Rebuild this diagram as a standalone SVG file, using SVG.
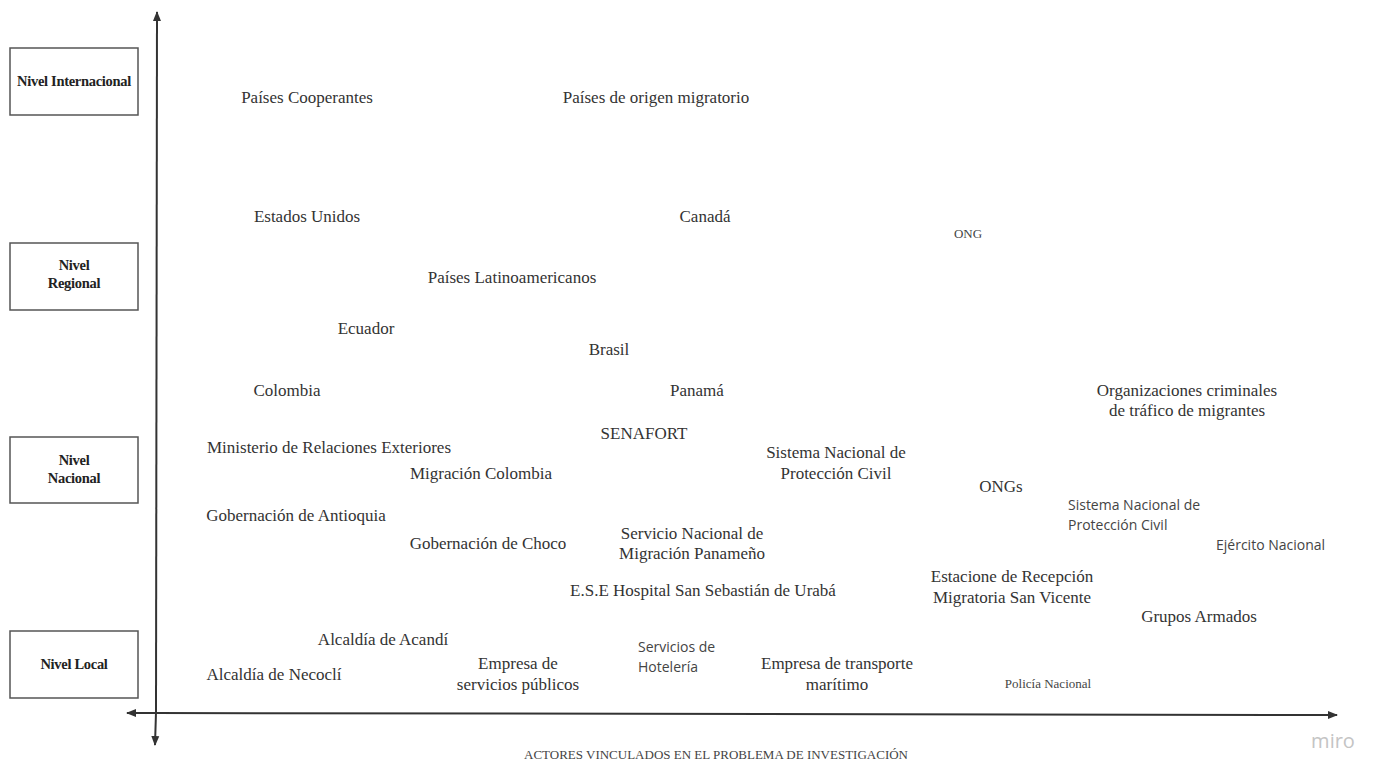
<svg xmlns="http://www.w3.org/2000/svg" width="1373" height="764" viewBox="0 0 1373 764">
<defs>
<marker id="ah" viewBox="0 0 10 10" refX="9" refY="5" markerWidth="5" markerHeight="5" orient="auto-start-reverse" markerUnits="strokeWidth">
<path d="M0,1 L10,5 L0,9 z" fill="#333"/>
</marker>
<style>
.box{fill:#fff;stroke:#555;stroke-width:1.5}
.lvl{font-family:"Liberation Serif",serif;font-weight:bold;font-size:14.5px;fill:#222;text-anchor:middle;letter-spacing:-0.3px}
.t{font-family:"Liberation Serif",serif;font-size:17px;fill:#333;text-anchor:middle}
.s{font-family:"Liberation Serif",serif;font-size:13px;fill:#444;text-anchor:middle}
.sans{font-family:"Open Sans",sans-serif;font-size:14px;fill:#444}
.axis{stroke:#333;stroke-width:2;fill:none}
</style>
</defs>
<rect width="1373" height="764" fill="#fff"/>
<g id="connectors">
<line class="axis" x1="156" y1="712" x2="157" y2="12" marker-end="url(#ah)"/>
<line class="axis" x1="156" y1="712" x2="155" y2="745" marker-end="url(#ah)"/>
<line class="axis" x1="156" y1="713" x2="127" y2="713" marker-end="url(#ah)"/>
<line class="axis" x1="156" y1="713" x2="1337" y2="715" marker-end="url(#ah)"/>
</g>
<g id="nivel-internacional"><rect class="box" x="10" y="48" width="128" height="67"/><text class="lvl" x="74" y="86">Nivel Internacional</text></g>
<g id="nivel-regional"><rect class="box" x="10" y="243" width="128" height="67"/><text class="lvl" x="74" y="270">Nivel</text><text class="lvl" x="74" y="288">Regional</text></g>
<g id="nivel-nacional"><rect class="box" x="10" y="437" width="128" height="66"/><text class="lvl" x="74" y="465">Nivel</text><text class="lvl" x="74" y="483">Nacional</text></g>
<g id="nivel-local"><rect class="box" x="10" y="631" width="128" height="67"/><text class="lvl" x="74" y="669">Nivel Local</text></g>

<g id="paises-cooperantes"><text class="t" x="307" y="103">Países Cooperantes</text></g>
<g id="paises-origen"><text class="t" x="656" y="103">Países de origen migratorio</text></g>
<g id="estados-unidos"><text class="t" x="307" y="222">Estados Unidos</text></g>
<g id="canada"><text class="t" x="705" y="222">Canadá</text></g>
<g id="ong"><text class="s" x="968" y="238">ONG</text></g>
<g id="paises-latinoamericanos"><text class="t" x="512" y="283">Países Latinoamericanos</text></g>
<g id="ecuador"><text class="t" x="366" y="334">Ecuador</text></g>
<g id="brasil"><text class="t" x="609" y="355">Brasil</text></g>
<g id="colombia"><text class="t" x="287" y="396">Colombia</text></g>
<g id="panama"><text class="t" x="697" y="396">Panamá</text></g>
<g id="org-criminales"><text class="t" x="1187" y="396">Organizaciones criminales</text><text class="t" x="1187" y="416">de tráfico de migrantes</text></g>
<g id="senafort"><text class="t" x="644" y="439">SENAFORT</text></g>
<g id="ministerio"><text class="t" x="329" y="453">Ministerio de Relaciones Exteriores</text></g>
<g id="sinaproc"><text class="t" x="836" y="458">Sistema Nacional de</text><text class="t" x="836" y="479">Protección Civil</text></g>
<g id="migracion-colombia"><text class="t" x="481" y="479">Migración Colombia</text></g>
<g id="ongs"><text class="t" x="1001" y="492">ONGs</text></g>
<g id="sinaproc-2"><text class="sans" x="1068" y="510">Sistema Nacional de</text><text class="sans" x="1068" y="530">Protección Civil</text></g>
<g id="gob-antioquia"><text class="t" x="296" y="521">Gobernación de Antioquia</text></g>
<g id="snm-panama"><text class="t" x="692" y="539">Servicio Nacional de</text><text class="t" x="692" y="559">Migración Panameño</text></g>
<g id="gob-choco"><text class="t" x="488" y="549">Gobernación de Choco</text></g>
<g id="ejercito"><text class="sans" x="1216" y="550">Ejército Nacional</text></g>
<g id="hospital"><text class="t" x="703" y="596">E.S.E Hospital San Sebastián de Urabá</text></g>
<g id="estacion"><text class="t" x="1012" y="582">Estacione de Recepción</text><text class="t" x="1012" y="603">Migratoria San Vicente</text></g>
<g id="grupos-armados"><text class="t" x="1199" y="622">Grupos Armados</text></g>
<g id="alcaldia-acandi"><text class="t" x="383" y="645">Alcaldía de Acandí</text></g>
<g id="hoteleria"><text class="sans" x="638" y="652">Servicios de</text><text class="sans" x="638" y="672">Hotelería</text></g>
<g id="empresa-servicios"><text class="t" x="518" y="669">Empresa de</text><text class="t" x="518" y="690">servicios públicos</text></g>
<g id="empresa-transporte"><text class="t" x="837" y="669">Empresa de transporte</text><text class="t" x="837" y="690">marítimo</text></g>
<g id="alcaldia-necocli"><text class="t" x="274" y="680">Alcaldía de Necoclí</text></g>
<g id="policia"><text class="s" x="1048" y="688">Policía Nacional</text></g>
<g id="titulo"><text class="s" x="716" y="759">ACTORES VINCULADOS EN EL PROBLEMA DE INVESTIGACIÓN</text></g>
<text x="1333" y="748" font-family="'Open Sans',sans-serif" font-size="20" fill="#c4c4c4" text-anchor="middle">miro</text>
</svg>
